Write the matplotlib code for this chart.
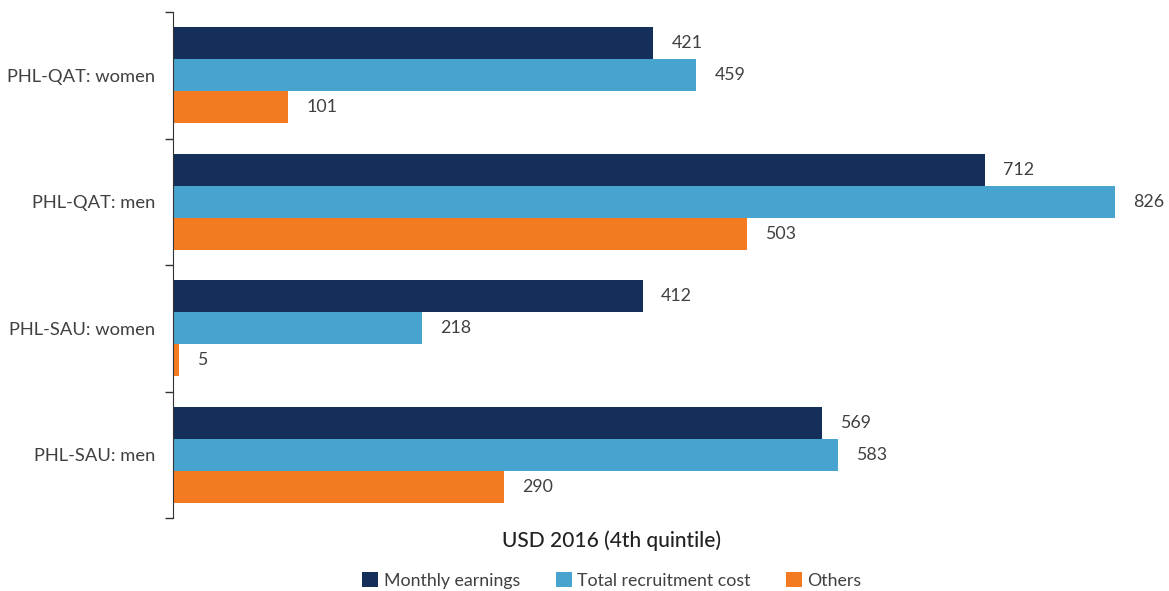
import numpy as np
import matplotlib.pyplot as plt
from matplotlib.ticker import FixedLocator

plt.rcParams['font.family'] = ['Lato', 'DejaVu Sans']

categories = ["PHL-QAT: women", "PHL-QAT: men", "PHL-SAU: women", "PHL-SAU: men"]
monthly_earnings = [421, 712, 412, 569]
recruitment_cost = [459, 826, 218, 583]
others = [101, 503, 5, 290]

series_names = ["Monthly earnings", "Total recruitment cost", "Others"]
colors = ["#14305A", "#47A4CF", "#F47A22"]
text_color = "#404040"

fig = plt.figure(figsize=(11.69, 5.91), dpi=100)
ax = fig.add_axes([0.148, 0.1235, 0.8486, 0.8562])

y = np.arange(len(categories))
h = 0.253
series = [monthly_earnings, recruitment_cost, others]
for i, (vals, name, col) in enumerate(zip(series, series_names, colors)):
    pos = y + (i - 1) * h
    ax.barh(pos, vals, height=h, color=col, label=name)
    for p, v in zip(pos, vals):
        ax.text(v + 16, p, str(v), va="center", ha="left",
                fontsize=12.8, color=text_color)

ax.set_xlim(0, 870)
ax.set_ylim(len(categories) - 0.5, -0.5)
ax.set_yticks(y)
ax.set_yticklabels(categories, fontsize=13.2, color=text_color)
ax.yaxis.set_minor_locator(FixedLocator(np.arange(-0.5, len(categories), 1.0)))
ax.tick_params(axis="y", which="major", length=0, pad=13)
ax.tick_params(axis="y", which="minor", length=6, width=1, color="#333333")
ax.set_xticks([])
for s in ["top", "right", "bottom"]:
    ax.spines[s].set_visible(False)
ax.spines["left"].set_color("#333333")

fig.text(0.5235, 0.085, "USD 2016 (4th quintile)", ha="center", va="center",
         fontsize=15, color="#222222", fontweight="medium")

handles, labels = ax.get_legend_handles_labels()
fig.legend(handles, labels, loc="center", bbox_to_anchor=(0.5235, 0.018),
           ncol=3, frameon=False, fontsize=12.8, handlelength=0.9,
           handleheight=0.9, handletextpad=0.3, columnspacing=2.0,
           labelcolor=text_color)

fig.savefig("out.png", dpi=100)
